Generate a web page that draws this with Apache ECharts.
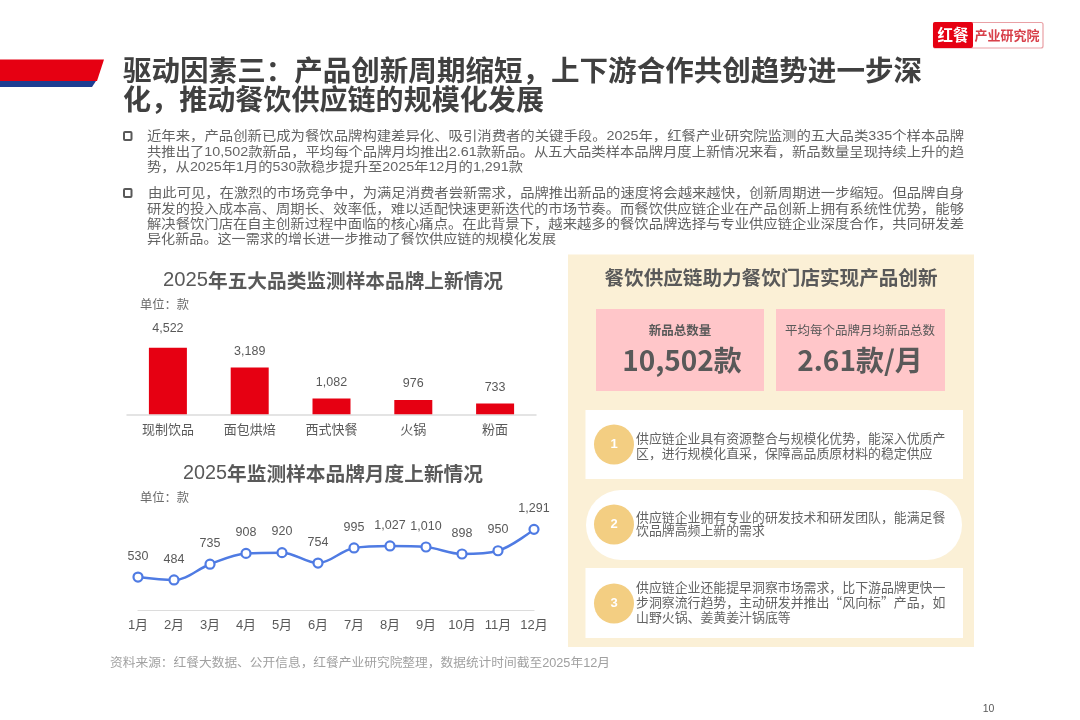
<!DOCTYPE html>
<html><head><meta charset="utf-8">
<style>html,body{margin:0;padding:0;background:#fff}#c{width:1080px;height:720px}</style>
<script src="https://cdn.jsdelivr.net/npm/echarts@6/dist/echarts.min.js"></script>
</head><body><div id="c"></div>
<script>
const barCategories = ['现制饮品','面包烘焙','西式快餐','火锅','粉面'];
const barValues = [4522,3189,1082,976,733];
const months = ['1月','2月','3月','4月','5月','6月','7月','8月','9月','10月','11月','12月'];
const monthValues = [530,484,735,908,920,754,995,1027,1010,898,950,1291];
const titleLines = ['驱动因素三:产品创新周期缩短,上下游合作共创趋势进一步深','化,推动餐饮供应链的规模化发展'];
const bodyLines = [
 '近年来,产品创新已成为餐饮品牌构建差异化、吸引消费者的关键手段。2025年,红餐产业研究院监测的五大品类335个样本品牌',
 '共推出了10,502款新品,平均每个品牌月均推出2.61款新品。从五大品类样本品牌月度上新情况来看,新品数量呈现持续上升的趋',
 '势,从2025年1月的530款稳步提升至2025年12月的1,291款',
 '由此可见,在激烈的市场竞争中,为满足消费者尝新需求,品牌推出新品的速度将会越来越快,创新周期进一步缩短。但品牌自身',
 '研发的投入成本高、周期长、效率低,难以适配快速更新迭代的市场节奏。而餐饮供应链企业在产品创新上拥有系统性优势,能够',
 '解决餐饮门店在自主创新过程中面临的核心痛点。在此背景下,越来越多的餐饮品牌选择与专业供应链企业深度合作,共同研发差',
 '异化新品。这一需求的增长进一步推动了餐饮供应链的规模化发展'
];
const card1 = ['供应链企业具有资源整合与规模化优势,能深入优质产','区,进行规模化直采,保障高品质原材料的稳定供应'];
const card2 = ['供应链企业拥有专业的研发技术和研发团队,能满足餐','饮品牌高频上新的需求'];
const card3 = ['供应链企业还能提早洞察市场需求,比下游品牌更快一','步洞察流行趋势,主动研发并推出“风向标”产品,如','山野火锅、姜黄姜汁锅底等'];

const FF = '"Liberation Sans","Noto Sans CJK SC",sans-serif';
const CJK = '"Noto Sans CJK SC",sans-serif';
const fw = s => s.replace(/,(?!\d)/g,'\uFF0C').replace(/:/g,'\uFF1A');
const mc = document.createElement('canvas').getContext('2d');
const G = [];
function T(raw,x,y,o){
  o=o||{};
  const str=fw(raw);
  const size=o.size||13, weight=o.weight||'normal', fam=o.fam||FF;
  const font=weight+' '+size+'px '+fam;
  let sx=1;
  if(o.w){mc.font=font;sx=o.w/mc.measureText(str).width;}
  G.push({type:'text',x:x,y:y,scaleX:sx,silent:true,z:o.z||5,style:{text:str,x:0,y:0,font:font,fill:o.color||'#595959',
    textAlign:o.align||'left',textVerticalAlign:'middle',textBaseline:'middle'}});
}
function o0(){return 1+G.length*0.001;}
function R(x,y,w,h,fill,r,stroke,lw){
  G.push({type:'rect',silent:true,z:o0(),shape:{x:x,y:y,width:w,height:h,r:r||0},style:{fill:fill,stroke:stroke||null,lineWidth:lw||0}});
}
function P(points,fill){G.push({type:'polygon',silent:true,z:o0(),shape:{points:points},style:{fill:fill}});}
function C(cx,cy,r,fill){G.push({type:'circle',silent:true,z:o0(),shape:{cx:cx,cy:cy,r:r},style:{fill:fill}});}

// banner
P([[0,59.5],[104,59.5],[97,81],[0,81]],'#E60012');
P([[0,81],[96,81],[92,87],[0,87]],'#1E3E92');
// logo
R(933.5,22.5,109.5,25.5,'#fff',2,'#E9A0A5',1.2);
R(933,22,40,26,'#E60012',2);
T('红餐',953,35.5,{size:15.5,weight:'bold',color:'#fff',align:'center',fam:CJK});
T('产业研究院',1007,35.5,{size:13,weight:'bold',color:'#D8404A',align:'center',fam:CJK});
// title
T(titleLines[0],123,70,{size:28,weight:'bold',color:'#404040',w:799,fam:CJK});
T(titleLines[1],123,99,{size:28,weight:'bold',color:'#404040',w:421,fam:CJK});
// body
R(124,132,7.5,8,'#fff',1,'#595959',2);
R(124,189,7.5,8,'#fff',1,'#595959',2);
const bodyPos=[[147,136.5,817],[147,152,817],[147,167,376],[148,193,816],[147,209,817],[147,224,817],[147,239.5,409]];
bodyLines.forEach((s,i)=>T(s,bodyPos[i][0],bodyPos[i][1],{size:13,color:'#636363',w:bodyPos[i][2]}));
// chart headings
T('2025',163,281,{size:19.5,color:'#595959',w:45});
T('年五大品类监测样本品牌上新情况',208,281,{size:19.5,weight:'bold',color:'#595959',w:295,fam:CJK});
T('单位:款',140,306,{size:12.5,color:'#6b6b6b',w:49});
T('2025',183,474,{size:19.5,color:'#595959',w:44});
T('年监测样本品牌月度上新情况',227,474,{size:19.5,weight:'bold',color:'#595959',w:256,fam:CJK});
T('单位:款',140,499,{size:12.5,color:'#6b6b6b',w:49});
T('资料来源:红餐大数据、公开信息,红餐产业研究院整理,数据统计时间截至2025年12月',110,664,{size:12,color:'#a0a0a0',w:500});
T('10',988.5,709.5,{size:10.5,color:'#595959',align:'center'});
// right panel
R(568,254.5,406,392.5,'#FBF0D6');
T('餐饮供应链助力餐饮门店实现产品创新',771,278,{size:19.6,weight:'bold',color:'#595959',align:'center',fam:CJK});
R(596,309,168,82,'#FFC6C9');
R(776,309,169,82,'#FFC6C9');
T('新品总数量',680,330,{size:12.5,weight:'bold',color:'#595959',align:'center',fam:CJK});
T('10,502款',682,360,{size:28,weight:'bold',color:'#595959',align:'center',fam:CJK});
T('平均每个品牌月均新品总数',860,330,{size:12.5,color:'#595959',align:'center',fam:CJK});
T('2.61款/月',860,360,{size:28,weight:'bold',color:'#595959',align:'center',fam:CJK});
R(585.5,410,377.5,69,'#fff');
R(586,490,376,70,'#fff',35);
R(585.5,568,377.5,70,'#fff');
[[444.5,'1'],[524.5,'2'],[603.5,'3']].forEach(a=>{
  C(614,a[0],20,'#F3CE82');
  T(a[1],614,a[0],{size:13,weight:'bold',color:'#fff',align:'center'});
});
const cs={size:12.9,color:'#636363',fam:CJK};
card1.forEach((s,i)=>T(s,636,438+i*14.8,cs));
card2.forEach((s,i)=>T(s,636,517+i*13,cs));
card3.forEach((s,i)=>T(s,636,587+i*15,cs));

const chart = echarts.init(document.getElementById('c'),null,{renderer:'canvas'});
const labelBase={color:'#595959',fontFamily:FF,fontSize:12.5};
chart.setOption({
  animation:false,
  backgroundColor:'#fff',
  graphic:{elements:G},
  grid:[
    {left:127,top:304,width:409,height:110.3},
    {left:138,top:510,width:396,height:100.3}
  ],
  xAxis:[
    {type:'category',gridIndex:0,data:barCategories,axisTick:{show:false},
      axisLine:{lineStyle:{color:'#DCDCDC',width:1.5}},
      axisLabel:{color:'#595959',fontSize:13,margin:10,fontFamily:FF}},
    {type:'category',gridIndex:1,data:months,boundaryGap:false,axisTick:{show:false},
      axisLine:{lineStyle:{color:'#DCDCDC',width:1.2}},
      axisLabel:{color:'#595959',fontSize:13,margin:9,fontFamily:FF,interval:0,showMinLabel:true,showMaxLabel:true}}
  ],
  yAxis:[
    {type:'value',gridIndex:0,min:0,max:7500,show:false},
    {type:'value',gridIndex:1,min:0,max:1600,show:false}
  ],
  series:[
    {type:'bar',xAxisIndex:0,yAxisIndex:0,barWidth:38,
      data:barValues.map((v,i)=>i===0?{value:v,label:{distance:13}}:v),
      itemStyle:{color:'#E60012'},
      label:{show:true,position:'top',distance:10,...labelBase,
        formatter:p=>p.value.toLocaleString('en-US')}},
    {type:'line',xAxisIndex:1,yAxisIndex:1,data:monthValues,smooth:0.35,
      symbol:'circle',symbolSize:9,showSymbol:true,
      lineStyle:{color:'#4F7BE3',width:2.5},
      itemStyle:{color:'#fff',borderColor:'#4F7BE3',borderWidth:2.2},
      label:{show:true,position:'top',distance:9,...labelBase,
        formatter:p=>p.value.toLocaleString('en-US')}}
  ]
});
</script></body></html>
